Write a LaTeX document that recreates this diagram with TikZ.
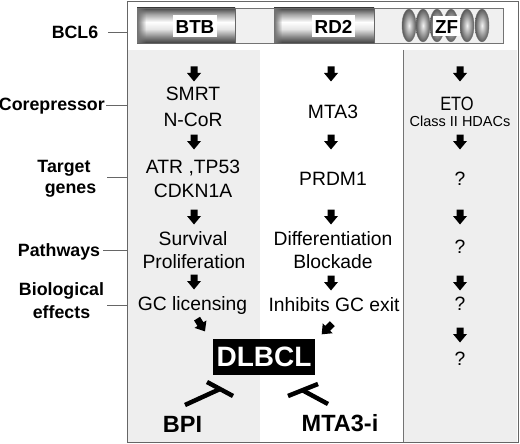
\documentclass[tikz,border=0pt]{standalone}
\usepackage{fontspec}
\usepackage{graphicx}
\setmainfont{Liberation Sans}
\usetikzlibrary{fadings}
\newcommand\myfs[1]{\fontsize{#1}{#1}\selectfont}
\definecolor{colbg}{RGB}{238,238,238}
\pgfdeclareverticalshading{cyl}{100bp}{color(0bp)=(black!75); color(25bp)=(black!75); color(33bp)=(black!50); color(45bp)=(black!10); color(55bp)=(white); color(66bp)=(black!35); color(75bp)=(black!72); color(100bp)=(black!72)}
\tikzset{
  pics/barrow/.style={code={\fill[black] (-3.5,-7.5) -- (3.5,-7.5) -- (3.5,-1) -- (7,-1) -- (0,7.5) -- (-7,-1) -- (-3.5,-1) -- cycle;}},
  lab/.style={font=\myfs{17.8}\bfseries, inner sep=0, anchor=base},
  txt/.style={font=\myfs{19.3}, inner sep=0, anchor=base},
  small/.style={font=\myfs{14.5}, inner sep=0, anchor=base},
  guide/.style={draw=black!60, line width=0.8pt},
  inh/.style={line width=4.5pt},
  dom/.style={fill=white, inner xsep=0, inner ysep=1.5, text height=17, text depth=2, anchor=base, font=\myfs{18.8}\bfseries},
  seg/.style={shading=cyl, draw=black!60, line width=0.5pt},
  zfo/.style={inner color=black!5, outer color=black!65, draw=black!55, line width=0.4pt},
  drug/.style={font=\myfs{23.5}\bfseries, inner sep=0, anchor=base}
}
\begin{document}
\begin{tikzpicture}[x=1pt,y=-1pt]
\useasboundingbox (0,0) rectangle (520,444);
\fill[white] (0,0) rectangle (520,444);
% columns
\fill[colbg] (128,50) rectangle (260,442);
\fill[colbg] (404,50) rectangle (517,442);
\draw[black!55, line width=0.8pt] (403,50) -- (403,442);
% frame
\draw[black!60, line width=0.9pt] (127,1) rectangle (518,442);
% protein bar
\draw[black!55, fill=black!6, line width=0.6pt] (137,8) rectangle (503,43);
\shade[seg] (137,8) rectangle (235,43);
\fill[black!55, path fading=east] (137.3,8.3) rectangle (146,42.7);
\shade[seg] (274,8) rectangle (374,43);
\fill[black!55, path fading=east] (274.3,8.3) rectangle (282,42.7);
\foreach \cx in {409,423,437,451,467,482}
  \shade[zfo] (\cx,25.5) ellipse [x radius=7, y radius=16.5];
\node[dom, minimum width=44] (btb) at (195,34) {BTB};
\node[dom, minimum width=43] (rd2) at (333.5,34) {RD2};
\node[dom, minimum width=27, text height=16, inner ysep=1] (zf) at (446.5,33.5) {ZF};
% left labels
\node[lab] (bcl6) at (75,38.5) {BCL6};
\node[lab, anchor=base east] (corep) at (105,110.5) {Corepressor};
\node[lab] (tg1) at (64,172.5) {Target};
\node[lab] (tg2) at (70.5,193) {genes};
\node[lab] (path) at (59,256.5) {Pathways};
\node[lab] (bio1) at (61.5,295.5) {Biological};
\node[lab] (bio2) at (61.5,318) {effects};
\coordinate (g1a) at (108,32); \coordinate (g1b) at (127,32);
\coordinate (g2a) at (106,105); \coordinate (g2b) at (127,105);
\coordinate (g3a) at (107,177); \coordinate (g3b) at (127,177);
\coordinate (g4a) at (103,250); \coordinate (g4b) at (127,250);
\coordinate (g5a) at (107,305); \coordinate (g5b) at (127,305);
\draw[guide] (g1a) -- (g1b);
\draw[guide] (g2a) -- (g2b);
\draw[guide] (g3a) -- (g3b);
\draw[guide] (g4a) -- (g4b);
\draw[guide] (g5a) -- (g5b);
% left column
\node[txt] (smrt) at (193,101) {SMRT};
\node[txt] (ncor) at (193,126) {N-CoR};
\node[txt] (atr) at (193,173) {ATR ,TP53};
\node[txt] (cdkn) at (193,197) {CDKN1A};
\node[txt] (surv) at (193,245) {Survival};
\node[txt] (prol) at (194,268) {Proliferation};
\node[txt] (gcl) at (192.5,310.5) {GC licensing};
\pic at (194,74) {barrow};
\pic at (194,142) {barrow};
\pic at (194,217) {barrow};
\pic at (194,282) {barrow};
\pic[rotate=32] at (201,325) {barrow};
% middle column
\node[txt] (mta3) at (333,119) {MTA3};
\node[txt] (prdm) at (333,185) {PRDM1};
\node[txt] (diff) at (333,245.5) {Differentiation};
\node[txt] (block) at (333,268) {Blockade};
\node[txt] (inhgc) at (334,311) {Inhibits GC exit};
\pic at (331,74) {barrow};
\pic at (331,142) {barrow};
\pic at (331,217) {barrow};
\pic at (331,283) {barrow};
\pic[rotate=-45] at (327,329) {barrow};
% right column
\node[txt] (eto) at (457,110.5) {\scalebox{0.85}[1]{ETO}};
\node[small] (hdac) at (460,127) {Class II HDACs};
\node[txt] (q1) at (460,185) {?};
\node[txt] (q2) at (460,253) {?};
\node[txt] (q3) at (460,310.5) {?};
\node[txt] (q4) at (460,365) {?};
\pic at (460,74) {barrow};
\pic at (460,142) {barrow};
\pic at (460,217) {barrow};
\pic at (460,283) {barrow};
\pic at (460,335) {barrow};
% DLBCL and inhibitors
\node[fill=black, text=white, font=\myfs{28}\bfseries, minimum width=102, minimum height=36, inner sep=0] (dlbcl) at (264,357) {DLBCL};
\node[drug] (bpi) at (182.5,432) {BPI};
\node[drug] (mtai) at (340,431.5) {MTA3-i};
\coordinate (bpiS) at (185,405); \coordinate (bpiT) at (220,389);
\coordinate (bpiB1) at (207,382); \coordinate (bpiB2) at (233,396);
\coordinate (mtS) at (328,404); \coordinate (mtT) at (302,390);
\coordinate (mtB1) at (288,396); \coordinate (mtB2) at (318,384);
\draw[inh] (bpiS) -- (bpiT);
\draw[inh] (bpiB1) -- (bpiB2);
\draw[inh] (mtS) -- (mtT);
\draw[inh] (mtB1) -- (mtB2);
\end{tikzpicture}
\end{document}
